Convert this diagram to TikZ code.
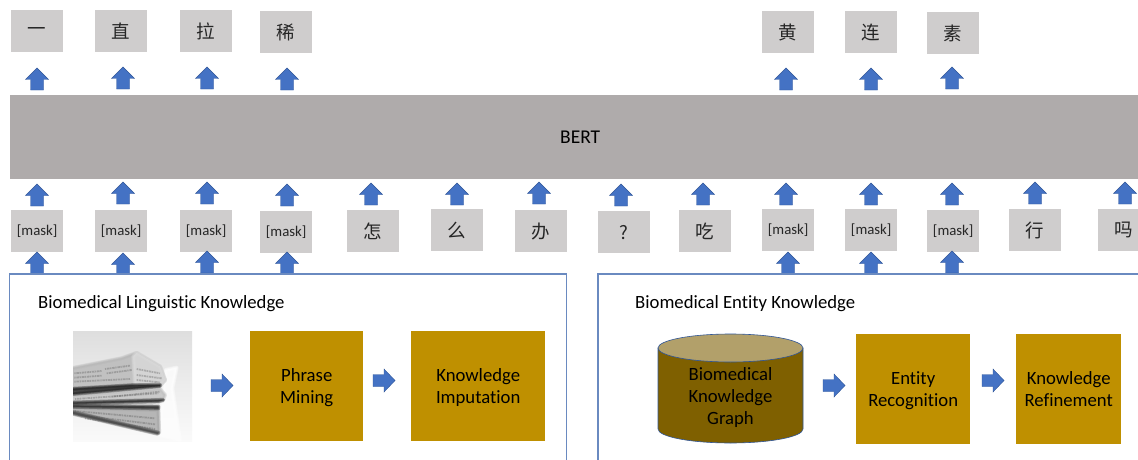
\documentclass[tikz,border=0pt]{standalone}
\usepackage{fontspec}
\setmainfont[Ligatures=NoCommon]{Carlito}
\newfontfamily\cjk{Noto Sans CJK SC}
\definecolor{tokgrey}{HTML}{CFCDCD}
\definecolor{bertgrey}{HTML}{AFABAB}
\definecolor{arrowblue}{HTML}{4472C4}
\definecolor{arrowedge}{HTML}{2F5597}
\definecolor{gold}{HTML}{BF9000}
\definecolor{cyl}{HTML}{7F6000}
\definecolor{cyltop}{HTML}{B2A06A}
\definecolor{framecol}{HTML}{6A8AC0}
\newcommand\goldtext[1]{\raisebox{-6pt}[0pt][0pt]{\begin{tabular}{@{}c@{}}#1\end{tabular}}}
\newcommand\blurpoly[2]{\foreach \w in {7,5,3,1}{\fill[#1,opacity=.33,draw=#1,line width=\w*.6pt,line join=round] #2;}}
\tikzset{
  x=1pt,y=-1pt,
  tok/.style={fill=tokgrey,minimum width=52pt,minimum height=42pt,inner sep=0pt,text=black!85,anchor=north west},
  zh/.style={tok,font=\cjk\fontsize{18.5}{21}\selectfont},
  mk/.style={tok,font=\fontsize{14.8}{17}\selectfont},
  goldbox/.style={fill=gold,inner sep=0pt,align=center,anchor=north west,font=\fontsize{18.7}{22}\selectfont},
  title/.style={anchor=west,inner sep=0pt,font=\fontsize{18.7}{21}\selectfont},
  upar/.pic={\fill[arrowblue,draw=arrowedge,line width=.4pt] (0,0)--(11.5,11.5)--(6.5,11.5)--(6.5,22)--(-6.5,22)--(-6.5,11.5)--(-11.5,11.5)--cycle;},
  rar/.pic={\fill[arrowblue,draw=arrowedge,line width=.4pt] (22,11.5)--(11,0)--(11,5.5)--(0,5.5)--(0,17.5)--(11,17.5)--(11,23)--cycle;},
  frameline/.style={draw=framecol,line width=1.1pt},
}
\begin{document}
\begin{tikzpicture}
\useasboundingbox (0,0) rectangle (1138,460);
\clip (0,0) rectangle (1138,460);
% top tokens
\node[zh] (t1) at (11,10) {一};
\node[zh] (t2) at (95,10) {直};
\node[zh] (t3) at (180,10) {拉};
\node[zh] (t4) at (260,11) {稀};
\node[zh] (t5) at (762,11) {黄};
\node[zh] (t6) at (845,11) {连};
\node[zh] (t7) at (927,12) {素};
% BERT
\node[fill=bertgrey,minimum width=1140pt,minimum height=84pt,inner sep=0pt,anchor=north west,font=\fontsize{19.5}{22}\selectfont] (bert) at (10,95) {BERT};
% input tokens
\node[mk] (m1) at (11,210) {[mask]};
\node[mk] (m2) at (95,210) {[mask]};
\node[mk] (m3) at (180,210) {[mask]};
\node[mk] (m4) at (260,211) {[mask]};
\node[zh] (c1) at (347,210) {怎};
\node[zh] (c2) at (431,209) {么};
\node[zh] (c3) at (515,210) {办};
\node[zh] (c4) at (598,211) {?};
\node[zh] (c5) at (679,210) {吃};
\node[mk] (m5) at (762,209) {[mask]};
\node[mk] (m6) at (845,209) {[mask]};
\node[mk] (m7) at (927,210) {[mask]};
\node[zh] (c6) at (1009,209) {行};
\node[zh] (c7) at (1098,209) {吗};
% arrows
\foreach \x/\y in {37/68,123/67,207/67,287/68,786/68,871/68,952/67} \pic at (\x,\y) {upar};
\foreach \x/\y in {37/184,123/182,207/182,287/184,371/183,457/183,539/182,621/184,703/183,786/183,871/183,952/183,1035/182,1125/182} \pic at (\x,\y) {upar};
\foreach \x/\y in {37/252,123/253,207/251,287/252,788/252,871/252,952/251} \pic at (\x,\y) {upar};
% frames
\fill[white] (9.5,274) rectangle (566.5,460);
\fill[white] (598,274) rectangle (1138,460);
\draw[frameline] (9.5,460)--(9.5,274)--(566.5,274)--(566.5,460);
\draw[frameline] (598,460)--(598,274)--(1138,274);
\node[title] (lt) at (38,303.5) {Biomedical Linguistic Knowledge};
\node[title] (rt) at (635,303.5) {Biomedical Entity Knowledge};
% newspaper
\begin{scope}
\clip (73,331) rectangle (192,441);
\shade[top color=black!13,bottom color=black!2,middle color=black!7] (73,331) rectangle (192,441);
\begin{scope}[shift={(65,325)},x=.3333pt,y=-.3333pt]
\blurpoly{white}{(282,330)--(302,135)--(335,128)--(322,190)--(345,345)--cycle}
\blurpoly{black!28}{(20,130)--(170,100)--(215,84)--(285,125)--(300,165)--(285,182)--(20,190)--cycle}
\blurpoly{black!14}{(205,95)--(215,84)--(285,125)--(300,165)--(285,180)--(210,180)--cycle}
\blurpoly{black!24}{(20,212)--(285,192)--(300,210)--(295,222)--(20,232)--cycle}
\blurpoly{black!34}{(20,248)--(280,255)--(282,322)--(20,262)--cycle}
\foreach \xa/\ya/\xb/\yb in {28/145/110/138,28/158/110/152,28/170/195/162,120/132/195/122,125/145/200/135,215/132/285/145,215/150/290/160,215/165/285/172,30/222/280/205,140/215/285/200,30/258/270/280,40/270/270/298,60/280/270/312}
  \draw[black!70,opacity=.3,line width=1.8pt,dash pattern=on 1.3pt off .8pt on 2.5pt off .6pt] (\xa,\ya)--(\xb,\yb);
\blurpoly{black!85}{(20,192)--(200,181)--(285,180)--(285,183)--(130,197)--(20,207)--cycle}
\blurpoly{black!80}{(20,233)--(295,225)--(280,229)--(20,236)--cycle}
\blurpoly{black!80}{(20,242)--(280,245)--(280,250)--(20,245)--cycle}
\blurpoly{black!70}{(20,260)--(280,323)--(278,326)--(20,265)--cycle}
\end{scope}
\end{scope}
\pic at (211,374) {rar};
\node[goldbox,minimum width=113pt,minimum height=110pt] (pm) at (250,331) {\goldtext{Phrase\\Mining}};
\pic at (373,369) {rar};
\node[goldbox,minimum width=134pt,minimum height=110pt] (ki) at (411,331) {\goldtext{Knowledge\\Imputation}};
% cylinder
\fill[cyl,draw=arrowedge,line width=.6pt] (658,348)--(658,429) arc[x radius=72.5pt,y radius=14pt,start angle=180,end angle=360] --(803,348)--cycle;
\node[align=center,inner sep=0pt,font=\fontsize{18.7}{22}\selectfont] (kg) at (730.5,397.6) {\begin{tabular}{@{}c@{}}Biomedical\\Knowledge\\Graph\end{tabular}};
\fill[cyltop,draw=arrowedge,line width=.6pt] (730.5,348) ellipse[x radius=72.5pt,y radius=14pt];
\pic at (823,374) {rar};
\node[goldbox,minimum width=114pt,minimum height=110pt] (er) at (856,334) {\goldtext{Entity\\Recognition}};
\pic at (982,369) {rar};
\node[goldbox,minimum width=105pt,minimum height=110pt] (kr) at (1016,334) {\goldtext{Knowledge\\Refinement}};
\end{tikzpicture}
\end{document}
